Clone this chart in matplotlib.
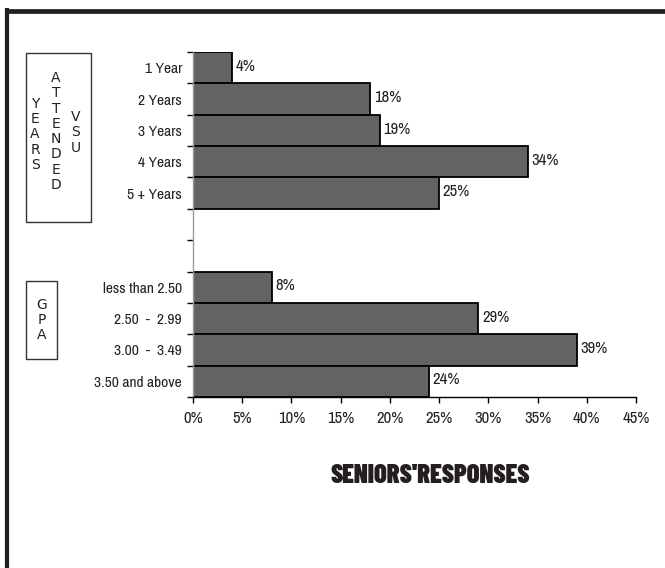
import matplotlib
matplotlib.use("Agg")
import matplotlib.pyplot as plt
from matplotlib.patches import Rectangle
from matplotlib.lines import Line2D
import numpy as np

# Survey results (percent of seniors)
years_labels = ["1 Year", "2 Years", "3 Years", "4 Years", "5 + Years"]
years_values = [4, 18, 19, 34, 25]
gpa_labels = ["less than 2.50", "2.50  -  2.99", "3.00  -  3.49", "3.50 and above"]
gpa_values = [8, 29, 39, 24]
x_ticks = [0, 5, 10, 15, 20, 25, 30, 35, 40, 45]

W, H = 665, 568
fig = plt.figure(figsize=(W / 100, H / 100), dpi=100)
fig.patch.set_facecolor("white")

narrow = ["Archivo Narrow", "Liberation Sans", "DejaVu Sans"]
heavy = ["Barlow Condensed", "Anton", "DejaVu Sans"]

def fx(px):
    return px / W

def fy(py):
    return 1 - py / H

ax = fig.add_axes([fx(193), fy(397), fx(636) - fx(193), fy(52) - fy(397)])

# Slot layout: five tenure rows, two empty rows, four GPA rows
years_pos = np.arange(len(years_labels))
gpa_pos = np.arange(len(gpa_labels)) + len(years_labels) + 2
n_slots = len(years_labels) + 2 + len(gpa_labels)

bar_kw = dict(height=1.0, color="#636365", edgecolor="black", linewidth=1.3)
ax.barh(years_pos, years_values, **bar_kw)
ax.barh(gpa_pos, gpa_values, **bar_kw)

for pos, vals in ((years_pos, years_values), (gpa_pos, gpa_values)):
    for p, v in zip(pos, vals):
        ax.annotate(f"{v}%", (v, p), xytext=(2.5, 1), textcoords="offset points",
                    ha="left", va="center", fontsize=12, family=narrow,
                    color="#222222")

ax.set_xlim(0, 45)
ax.set_ylim(n_slots - 0.5, -0.5)

ax.set_xticks(x_ticks)
ax.set_xticklabels([f"{t}%" for t in x_ticks], family=narrow, fontsize=12,
                   color="#222222")
ax.tick_params(axis="x", direction="out", length=4, width=1, pad=6, color="black")

# Row boundaries carry the tick marks; labels sit on row centres
ax.set_yticks(np.arange(n_slots + 1) - 0.5)
ax.set_yticklabels([])
ax.tick_params(axis="y", which="major", direction="out", length=4, width=1, color="black")
ax.set_yticks(list(years_pos) + list(gpa_pos), minor=True)
ax.set_yticklabels(years_labels + gpa_labels, minor=True, family=narrow,
                   fontsize=11.2, color="#222222")
ax.tick_params(axis="y", which="minor", length=0, pad=8)

for s in ("top", "right"):
    ax.spines[s].set_visible(False)
ax.spines["left"].set_color("#9a9a9a")
ax.spines["left"].set_linewidth(1.0)
ax.spines["bottom"].set_color("black")
ax.spines["bottom"].set_linewidth(1.0)

# Group caption boxes with stacked letters
fig.add_artist(Rectangle((fx(26), fy(222)), fx(91) - fx(26), fy(53) - fy(222),
                         transform=fig.transFigure, fill=False,
                         edgecolor="#333333", linewidth=1.0))
for word, xc, yc in (("YEARS", 35, 134.5), ("ATTENDED", 56, 131.5), ("VSU", 76, 132.5)):
    fig.text(fx(xc), fy(yc), "\n".join(word), ha="center", va="center",
             fontsize=10, family="DejaVu Sans", linespacing=1.12, color="#222222")

fig.add_artist(Rectangle((fx(26), fy(359)), fx(57) - fx(26), fy(281) - fy(359),
                         transform=fig.transFigure, fill=False,
                         edgecolor="#333333", linewidth=1.0))
fig.text(fx(42), fy(320), "\n".join("GPA"), ha="center", va="center",
         fontsize=10, family="DejaVu Sans", linespacing=1.12, color="#222222")

# Heavy title below the chart
fig.text(fx(430), fy(476), "SENIORS'RESPONSES", ha="center", va="center",
         fontsize=19, fontweight=900, family=heavy, color="#231f20")

# Frame strokes along the top and left edges
fig.add_artist(Line2D([fx(5), 1], [fy(10.5), fy(10.5)], transform=fig.transFigure,
                      color="#231f20", linewidth=3.4, solid_capstyle="butt"))
fig.add_artist(Line2D([fx(6.5), fx(6.5)], [fy(8), 0], transform=fig.transFigure,
                      color="#231f20", linewidth=3.0, solid_capstyle="butt"))

fig.savefig("out.png", dpi=100, facecolor="white")
